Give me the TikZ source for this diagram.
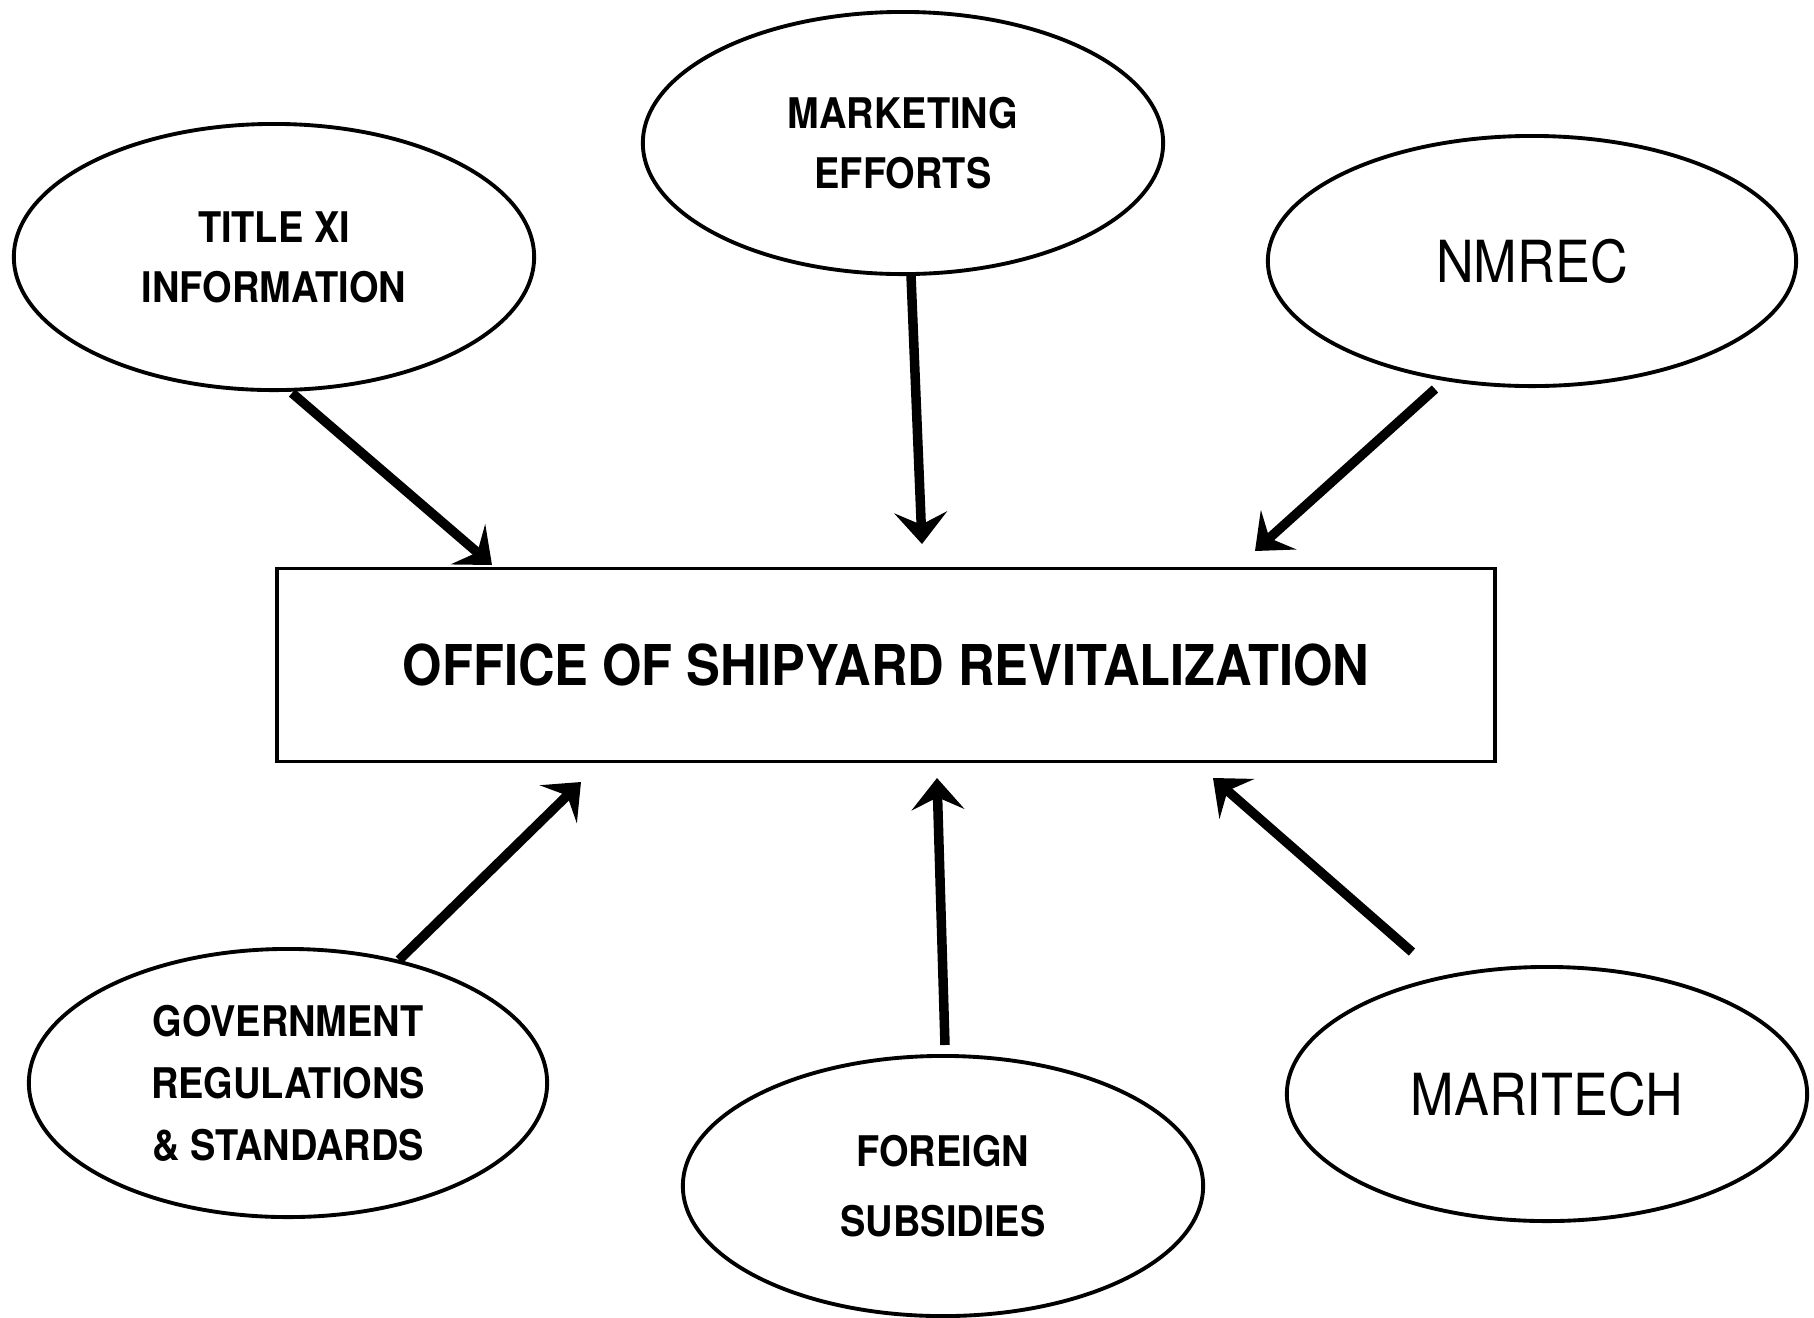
\documentclass[tikz,border=0pt]{standalone}
\usepackage{fontspec}
\setmainfont{TeX Gyre Heros}
\newfontfamily\narrowfont[FakeStretch=0.9]{TeX Gyre Heros}
\usetikzlibrary{shapes.geometric,arrows.meta}
\tikzset{
  bubble/.style={ellipse, draw, line width=1.1pt, inner sep=0pt,
    minimum width=5.2cm, minimum height=2.62cm, align=center,
    font=\narrowfont\bfseries\fontsize{12}{17}\selectfont},
  bigbubble/.style={bubble, font=\narrowfont\fontsize{16.5}{20}\selectfont},
  officebox/.style={draw, line width=1pt, minimum width=12.17cm, minimum height=1.93cm,
    font=\narrowfont\bfseries\fontsize{16}{18}\selectfont},
  arr/.style={line width=2.7pt, -{Stealth[length=9pt,width=15pt,inset=3.5pt]}}
}
\begin{document}
\begin{tikzpicture}[x=0.01cm,y=-0.01cm]
\useasboundingbox (0,0) rectangle (1814,1317);
\node[bubble, minimum width=5.2cm, minimum height=2.66cm] (title) at (274,257) {TITLE XI\\INFORMATION};
\node[bubble, minimum height=2.62cm] (market) at (903,143) {MARKETING\\EFFORTS};
\node[bigbubble, minimum width=5.28cm, minimum height=2.5cm] (nmrec) at (1532,261) {NMREC};
\node[officebox] (office) at (886,665) {OFFICE OF SHIPYARD REVITALIZATION};
\node[bubble, minimum width=5.18cm, minimum height=2.68cm, font=\narrowfont\bfseries\fontsize{12}{17.6}\selectfont] (gov) at (288,1083) {GOVERNMENT\\REGULATIONS\\\& STANDARDS};
\node[bubble, minimum height=2.6cm, font=\narrowfont\bfseries\fontsize{12}{19.7}\selectfont] (foreign) at (943,1186) {FOREIGN\\SUBSIDIES};
\node[bigbubble, minimum height=2.54cm] (maritech) at (1547,1094) {MARITECH};
\draw[arr] ([shift={(18,136)}]title.center) -- ([shift={(-394,-100)}]office.center);
\draw[arr] ([shift={(8,132)}]market.center) -- ([shift={(36,-121)}]office.center);
\draw[arr] ([shift={(-97,128)}]nmrec.center) -- ([shift={(369,-114)}]office.center);
\draw[arr] ([shift={(111,-123)}]gov.center) -- ([shift={(-305,117)}]office.center);
\draw[arr] ([shift={(2,-141)}]foreign.center) -- ([shift={(51,113)}]office.center);
\draw[arr] ([shift={(-135,-142)}]maritech.center) -- ([shift={(327,113)}]office.center);
\end{tikzpicture}
\end{document}
